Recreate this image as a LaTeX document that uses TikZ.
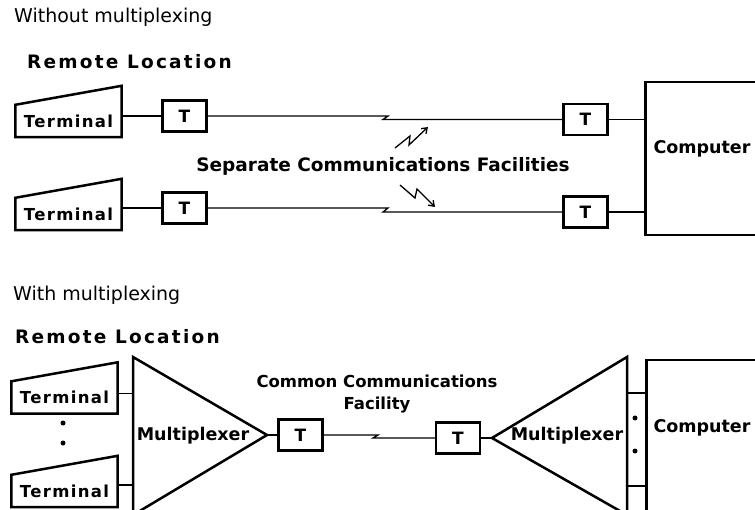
\documentclass[tikz,border=0pt]{standalone}
\usepackage{fontspec}
\setmainfont{DejaVu Sans}
\usetikzlibrary{arrows.meta, positioning}
\tikzset{
  mx/title/.style={font=\fontsize{19}{21}\selectfont, anchor=west, inner sep=0pt},
  mx/head/.style={font=\fontsize{18.5}{21}\selectfont\bfseries\addfontfeature{LetterSpace=12},
    anchor=west, inner sep=0pt},
  mx/term/.style={rectangle, minimum width=106pt, minimum height=32pt, inner sep=0pt,
    font=\fontsize{16.5}{18}\selectfont\bfseries\addfontfeature{LetterSpace=8}},
  mx/tbox/.style={rectangle, draw, line width=2.5pt, minimum width=44pt,
    minimum height=31pt, inner sep=0pt, font=\fontsize{17}{18}\selectfont\bfseries},
  mx/comp/.style={rectangle, draw, line width=2.5pt, anchor=north west,
    minimum width=140pt},
  mx/edge/.style={line width=2.5pt, line join=miter},
  mx/wire/.style={line width=1.3pt},
  mx/bolt/.style={line width=1.3pt, -{Straight Barb[length=5pt,width=7pt]}},
  mx/lbl/.style={font=\fontsize{17.5}{22}\selectfont\bfseries, align=center, inner sep=0pt},
  mx/dot/.style={circle, fill, inner sep=0pt, minimum size=5pt}
}

\begin{document}
\begin{tikzpicture}[x=1pt, y=-1pt]
  \useasboundingbox (0,0) rectangle (755,510);

  % --- Without multiplexing ---
  \node[mx/title] (ttl1) at (14,17) {Without multiplexing};
  \node[mx/head]  (rem1) at (27,62) {Remote Location};

  \node[mx/term] (term1) at (68.5,121) {Terminal};
  \node[mx/term] (term2) at (68.5,214) {Terminal};
  \node[mx/tbox] (t1) at (184.5,116) {T};
  \node[mx/tbox] (t2) at (585.5,119.5) {T};
  \node[mx/tbox] (t3) at (184.5,208) {T};
  \node[mx/tbox] (t4) at (585.5,212) {T};

  \node[mx/comp, minimum height=153pt] (comp1) at (644,81) {};
  \node[mx/lbl] (comp1txt) at (702,149) {Computer};

  \node[mx/lbl, font=\fontsize{18.5}{22}\selectfont\bfseries] (sep) at (383,166)
    {Separate Communications Facilities};

  % Leitungen mit Knick
  \coordinate (j1a) at (388,116);
  \coordinate (j1b) at (383,119.5);
  \coordinate (j2a) at (388,208);
  \coordinate (j2b) at (383,212);
  \draw[mx/wire] (term1.east |- t1.west) -- (t1.west);
  \draw[mx/wire] (t1.east) -- (j1a) -- (j1b) -- (t2.west);
  \draw[mx/wire] (t2.east) -- (t2.east -| comp1.west);
  \draw[mx/wire] (term2.east |- t3.west) -- (t3.west);
  \draw[mx/wire] (t3.east) -- (j2a) -- (j2b) -- (t4.west);
  \draw[mx/wire] (t4.east) -- (t4.east -| comp1.west);

  % Blitze
  \draw[mx/bolt] (395,148) -- (410,136) -- (409,145) -- (428,127);
  \draw[mx/bolt] (400,185) -- (415,198) -- (417,189) -- (435,207);

  % --- With multiplexing ---
  \node[mx/title] (ttl2) at (13,295) {With multiplexing};
  \node[mx/head]  (rem2) at (15,337) {Remote Location};

  \node[mx/term] (term3) at (64.5,397.5) {Terminal};
  \node[mx/term] (term4) at (64.5,491) {Terminal};
  \node[mx/dot] (dot1) at (63,423) {};
  \node[mx/dot] (dot2) at (63,443) {};

  \foreach \n in {term1,term2,term3,term4}
    \draw[mx/edge] (\n.south west) -- (\n.north west)
      -- ([yshift=19pt]\n.north east) -- (\n.south east) -- cycle;

  \coordinate (m1top) at (133,357);
  \coordinate (m1bot) at (133,515);
  \coordinate (m1tip) at (267,435);
  \draw[mx/edge] (m1top) -- (m1tip) -- (m1bot) -- cycle;
  \node[mx/lbl] (mux1) at (193,436) {Multiplexer};

  \coordinate (m2top) at (627,357);
  \coordinate (m2bot) at (627,515);
  \coordinate (m2tip) at (492,438);
  \draw[mx/edge] (m2top) -- (m2tip) -- (m2bot) -- cycle;
  \node[mx/lbl] (mux2) at (567,436) {Multiplexer};

  \node[mx/tbox] (t5) at (300.5,435) {T};
  \node[mx/tbox] (t6) at (458,438) {T};

  \node[mx/comp, minimum height=200pt] (comp2) at (645,359) {};
  \node[mx/lbl] (comp2txt) at (702,428) {Computer};

  \node[mx/lbl, font=\fontsize{16.5}{22}\selectfont\bfseries] (common) at (377,394)
    {Common Communications\\Facility};

  \coordinate (j3a) at (378,435);
  \coordinate (j3b) at (373,438);
  \draw[mx/wire] ([yshift=4pt]term3.east) -- ([yshift=4pt]term3.east -| m1top);
  \draw[mx/wire] ([yshift=6pt]term4.east) -- ([yshift=6pt]term4.east -| m1top);
  \draw[mx/wire] (m1tip) -- (t5.west);
  \draw[mx/wire] (t5.east) -- (j3a) -- (j3b) -- (t6.west);
  \draw[mx/wire] (t6.east) -- (m2tip);

  % Anschluesse zum Rechner
  \coordinate (port1) at (627,393);
  \coordinate (port2) at (627,486);
  \draw[mx/wire] (port1) -- (port1 -| comp2.west);
  \draw[mx/wire] (port2) -- (port2 -| comp2.west);
  \node[mx/dot] (dot3) at (635,418) {};
  \node[mx/dot] (dot4) at (635,451) {};
\end{tikzpicture}
\end{document}
